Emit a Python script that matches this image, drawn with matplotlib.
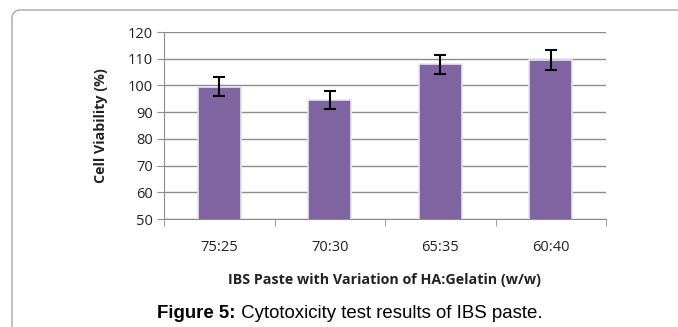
import matplotlib
matplotlib.use("Agg")
import matplotlib.pyplot as plt
from matplotlib.lines import Line2D
import numpy as np

categories = ["75:25", "70:30", "65:35", "60:40"]
values = [99.5, 94.6, 107.9, 109.5]
errors = [3.6, 3.3, 3.6, 3.6]
yticks = [50, 60, 70, 80, 90, 100, 110, 120]

W, H = 678, 327
fig = plt.figure(figsize=(W/100, H/100), dpi=100)

# outer frame: left and top edges with rounded corner (pixel coords)
r = 8
xl, yt = 12, 10
ang = np.linspace(np.pi, np.pi/2, 20)
arc_x = xl + r + r*np.cos(ang)
arc_y = yt + r - r*np.sin(ang)
px = np.concatenate([[xl], arc_x, [W + 5]])
py = np.concatenate([[H + 5], arc_y, [yt]])
fig.add_artist(Line2D(px / W, 1 - py / H, transform=fig.transFigure,
                      color="#a6a6a6", linewidth=1.0))

ax = fig.add_axes([164/W, 1 - 219/H, (606-164)/W, (219-32)/H])
x = np.arange(len(categories))
ax.bar(x, values, width=0.39, color="#8064A2", edgecolor="#e6e6ee",
       linewidth=1.2, zorder=3)
ax.errorbar(x, values, yerr=errors, fmt="none", ecolor="black",
            elinewidth=1.5, capsize=4, capthick=1.5, zorder=4)

ax.set_ylim(50, 120)
ax.set_xlim(-0.5, len(categories) - 0.5)
ax.set_yticks(yticks)
ax.yaxis.grid(True, color="#8c8c8c", linewidth=1.0, zorder=0)
ax.set_axisbelow(True)
for s in ["top", "right"]:
    ax.spines[s].set_visible(False)
ax.spines["left"].set_color("#8c8c8c")
ax.spines["bottom"].set_color("#8c8c8c")

ax.set_xticks(x)
ax.set_xticklabels(categories, fontsize=10.5, family="Open Sans", color="#222222")
ax.set_xticks(np.arange(-0.5, len(categories)), minor=True)
ax.tick_params(axis="x", which="major", length=0, pad=15)
ax.tick_params(axis="x", which="minor", length=5, color="#8c8c8c")
ax.tick_params(axis="y", length=5, color="#8c8c8c", labelsize=10.5, pad=3)
for lbl in ax.get_yticklabels():
    lbl.set_family("Open Sans")
    lbl.set_color("#222222")

ax.set_ylabel("Cell Viability (%)", fontsize=10.3, fontweight="bold",
              family="Open Sans", labelpad=14, color="#222222")
fig.text(385/W, 1 - 280/H, "IBS Paste with Variation of HA:Gelatin (w/w)",
         ha="center", va="center", fontsize=10.3, fontweight="bold",
         family="Open Sans", color="#222222")

t1 = fig.text(157/W, 1 - 314/H, "Figure 5:", ha="left", va="center",
              fontsize=13.4, fontweight="bold", family="Liberation Sans")
fig.canvas.draw()
bb = t1.get_window_extent(renderer=fig.canvas.get_renderer())
fig.text(bb.x1 / W, 1 - 314/H, " Cytotoxicity test results of IBS paste.",
         ha="left", va="center", fontsize=13.4, family="Liberation Sans")

fig.savefig("out.png", dpi=100)
